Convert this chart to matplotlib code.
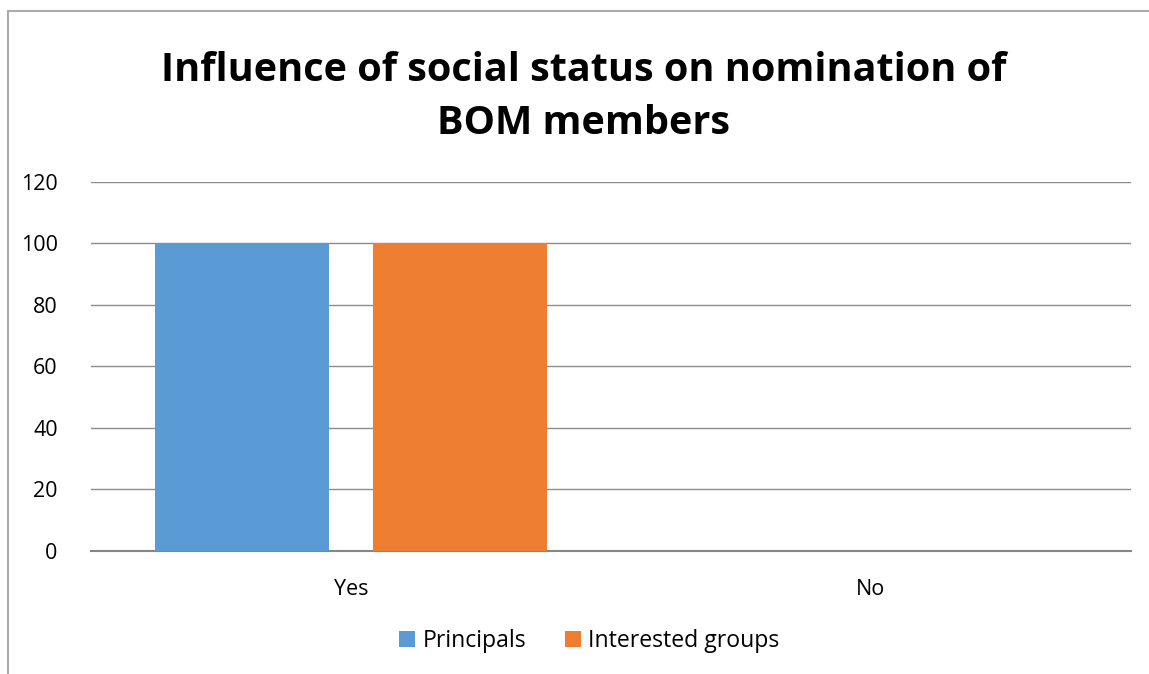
import matplotlib.pyplot as plt
import numpy as np

categories = ["Yes", "No"]
principals = [100, 0]
interested_groups = [100, 0]
yticks = [0, 20, 40, 60, 80, 100, 120]

plt.rcParams['font.family'] = ['Open Sans', 'DejaVu Sans']

fig = plt.figure(figsize=(11.49, 6.74), dpi=100)
ax = fig.add_axes([0.0792, 0.1825, 0.9051, 0.5475])

x = np.arange(len(categories))
w = 0.335
ax.bar(x - 0.209, principals, w, color="#5B9BD5", label="Principals", zorder=3)
ax.bar(x + 0.209, interested_groups, w, color="#ED7D31", label="Interested groups", zorder=3)

ax.set_xlim(-0.5, 1.5)
ax.set_ylim(0, 120)
ax.set_yticks(yticks)
ax.set_xticks(x)
ax.set_xticklabels(categories)
ax.tick_params(length=0, labelsize=15.5, colors="#000000")
ax.tick_params(axis="x", pad=20)
ax.tick_params(axis="y", pad=24)
ax.grid(axis="y", color="#8C8C8C", linewidth=1, zorder=0)
for s in ["top", "right", "left"]:
    ax.spines[s].set_visible(False)
ax.spines["bottom"].set_color("#868686")
ax.spines["bottom"].set_linewidth(1.5)

fig.text(0.508, 0.856, "Influence of social status on nomination of\nBOM members",
         ha="center", va="center", fontsize=28.5, fontweight="bold",
         linespacing=1.45)

fig.legend(loc="center", bbox_to_anchor=(0.513, 0.049), ncol=2, frameon=False,
           fontsize=16.6, handlelength=0.7, handleheight=0.7, handletextpad=0.3,
           columnspacing=1.7)

# outer chart border
fig.add_artist(plt.Line2D([0.007, 0.007], [0, 0.984], color="#ABABAB", linewidth=1.5))
fig.add_artist(plt.Line2D([0.007, 1.0], [0.984, 0.984], color="#ABABAB", linewidth=1.5))

fig.savefig("out.png", dpi=100)
